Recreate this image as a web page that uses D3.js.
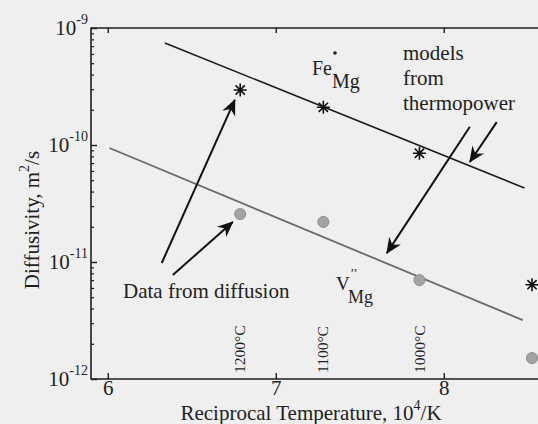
<!DOCTYPE html>
<html>
<head>
<meta charset="utf-8">
<script src="https://cdn.jsdelivr.net/npm/d3@7"></script>
<style>
  html, body { margin: 0; padding: 0; background: #efefef; }
  svg { display: block; }
  svg text { font-family: "Liberation Serif", "DejaVu Serif", serif; fill: #1e1e1e; }
</style>
</head>
<body>
<svg id="chart" width="538" height="424" font-family="Liberation Serif, serif"></svg>
<script>
// ---- data (x = 10^4 / T[K], y = diffusivity m^2/s) ----
const tempsC = [1200, 1100, 1000, 900];
const starX = [6.788, 7.283, 7.855, 8.525];
const starD = [2.95e-10, 2.1e-10, 8.5e-11, 6.4e-12];          // Fe_Mg (thermopower)
const circleX = [6.788, 7.283, 7.855, 8.525];
const circleD = [2.57e-11, 2.2e-11, 7.0e-12, 1.51e-12];       // V''_Mg (diffusion)
const feLineX = [6.34, 8.48];
const feLineD = [7.44e-10, 4.29e-11];
const vLineX = [6.01, 8.47];
const vLineD = [9.42e-11, 3.19e-12];
const tempLabels = ["1200°C", "1100°C", "1000°C"];
const xTicks = [6, 7, 8];
const yTicks = [1e-12, 1e-11, 1e-10, 1e-9];
const yTickExps = ["-12", "-11", "-10", "-9"];
// annotation arrows: tail (x0, D0) -> head (x1, D1)
const arrowsX0 = [6.321, 6.387, 8.155, 8.315];
const arrowsD0 = [9.8e-12, 7.74e-12, 1.43e-10, 1.57e-10];
const arrowsX1 = [6.756, 6.744, 7.661, 8.155];
const arrowsD1 = [2.43e-10, 2.2e-11, 1.19e-11, 7.16e-11];

const FONT = "Liberation Serif, DejaVu Serif, serif";
const svg = d3.select("#chart");
const mLeft = 91, mTop = 28, mBottom = 379;
const x = d3.scaleLinear().domain([5.9, 8.6]).range([mLeft, mLeft + 2.7 * 168]);
const y = d3.scaleLog().domain([1e-12, 1e-9]).range([mBottom, mTop]);

const ink = "#1e1e1e";

// axes lines
const axes = svg.append("g").attr("stroke", ink).attr("stroke-width", 1.6).attr("fill", "none");
axes.append("line").attr("x1", mLeft).attr("x2", mLeft).attr("y1", mTop - 0.5).attr("y2", mBottom + 0.5);
axes.append("line").attr("x1", mLeft).attr("x2", 538).attr("y1", mBottom).attr("y2", mBottom);
axes.append("line").attr("x1", mLeft).attr("x2", 538).attr("y1", mTop).attr("y2", mTop);

// y ticks (inward): major + minor
const minor = [];
for (let e = -12; e < -9; e++) for (let m = 2; m <= 9; m++) minor.push(m * Math.pow(10, e));
const yAxisMinor = d3.axisLeft(y).tickValues(minor).tickSize(-3).tickFormat("");
const gmin = svg.append("g").attr("transform", `translate(${mLeft},0)`).call(yAxisMinor);
gmin.select(".domain").remove();
gmin.selectAll("line").attr("stroke", ink).attr("stroke-width", 1.2);

const yAxis = d3.axisLeft(y).tickValues(yTicks).tickSize(-6).tickPadding(6);
const gy = svg.append("g").attr("transform", `translate(${mLeft},0)`).call(yAxis)
  .attr("font-family", FONT);
gy.select(".domain").remove();
gy.selectAll("line").attr("stroke", ink).attr("stroke-width", 1.4);
gy.selectAll("text").each(function(d, i) {
  const t = d3.select(this);
  t.text(null).attr("font-size", 21).attr("fill", ink).attr("dy", "0.3em").attr("x", -3);
  t.append("tspan").text("10");
  t.append("tspan").text(yTickExps[i]).attr("font-size", 14).attr("dy", "-0.75em");
});

// x ticks bottom and top (inward)
const xAxis = d3.axisBottom(x).tickValues(xTicks).tickSize(-6).tickPadding(10).tickFormat(d3.format("d"));
const gx = svg.append("g").attr("transform", `translate(0,${mBottom})`).call(xAxis)
  .attr("font-family", FONT);
gx.select(".domain").remove();
gx.selectAll("line").attr("stroke", ink).attr("stroke-width", 1.4);
gx.selectAll("text").attr("font-size", 21).attr("fill", ink).attr("dy", "0.3em");
const xTop = d3.axisTop(x).tickValues(xTicks).tickSize(-5).tickFormat("");
const gxt = svg.append("g").attr("transform", `translate(0,${mTop})`).call(xTop);
gxt.select(".domain").remove();
gxt.selectAll("line").attr("stroke", ink).attr("stroke-width", 1.4);

// axis titles
const xt = svg.append("text").attr("x", 311).attr("y", 420).attr("text-anchor", "middle")
  .attr("font-size", 21).attr("font-family", FONT);
xt.append("tspan").text("Reciprocal Temperature, 10");
xt.append("tspan").text("4").attr("font-size", 14).attr("dy", "-0.7em");
xt.append("tspan").text("/K").attr("dy", "0.45em");

const yt = svg.append("text").attr("transform", "translate(39,220) rotate(-90)")
  .attr("text-anchor", "middle").attr("font-size", 21).attr("font-family", FONT);
yt.append("tspan").text("Diffusivity, m");
yt.append("tspan").text("2").attr("font-size", 14).attr("dy", "-0.7em");
yt.append("tspan").text("/s").attr("dy", "0.45em");

// model lines
const line = d3.line().x(d => x(d[0])).y(d => y(d[1]));
svg.append("path").datum(feLineX.map((v, i) => [v, feLineD[i]])).attr("d", line)
  .attr("fill", "none").attr("stroke", "#1a1a1a").attr("stroke-width", 1.6);
svg.append("path").datum(vLineX.map((v, i) => [v, vLineD[i]])).attr("d", line)
  .attr("fill", "none").attr("stroke", "#6a6a6a").attr("stroke-width", 1.8);

// circles (diffusion data)
svg.append("g").selectAll("circle").data(circleX.map((v, i) => [v, circleD[i]])).join("circle")
  .attr("cx", d => x(d[0])).attr("cy", d => y(d[1])).attr("r", 5.5)
  .attr("fill", "#a4a4a4").attr("stroke", "#8a8a8a").attr("stroke-width", 1);

// stars (thermopower models)
const r = 6.5;
let starPath = "";
for (let k = 0; k < 4; k++) {
  const a = k * Math.PI / 4;
  starPath += `M${(-r * Math.cos(a)).toFixed(2)},${(-r * Math.sin(a)).toFixed(2)}L${(r * Math.cos(a)).toFixed(2)},${(r * Math.sin(a)).toFixed(2)}`;
}
svg.append("g").selectAll("path").data(starX.map((v, i) => [v, starD[i]])).join("path")
  .attr("transform", d => `translate(${x(d[0])},${y(d[1])})`)
  .attr("d", starPath).attr("stroke", "#111").attr("stroke-width", 1.6).attr("fill", "none");

// arrows
const defs = svg.append("defs");
defs.append("marker").attr("id", "ah").attr("markerUnits", "userSpaceOnUse")
  .attr("viewBox", "-16 -8 18 16").attr("refX", 0).attr("refY", 0)
  .attr("markerWidth", 18).attr("markerHeight", 16).attr("orient", "auto")
  .append("path").attr("d", "M1,0 L-15,-7 L-10,0 L-15,7 Z").attr("fill", "#111");
svg.append("g").selectAll("line").data(arrowsX0.map((v, i) => i)).join("line")
  .attr("x1", i => x(arrowsX0[i])).attr("y1", i => y(arrowsD0[i]))
  .attr("x2", i => x(arrowsX1[i])).attr("y2", i => y(arrowsD1[i]))
  .attr("stroke", "#111").attr("stroke-width", 2).attr("marker-end", "url(#ah)");

// temperature labels (rotated)
svg.append("g").attr("font-family", FONT).selectAll("text").data(tempLabels).join("text")
  .attr("transform", (d, i) => `translate(${x(10000 / (tempsC[i] + 273)) + 5},373) rotate(-90)`)
  .attr("font-size", 15.5).text(d => d);

// annotations
const fe = svg.append("text").attr("x", 312).attr("y", 75).attr("font-size", 20).attr("font-family", FONT);
fe.append("tspan").text("Fe");
fe.append("tspan").text("Mg").attr("dy", 13);
svg.append("circle").attr("cx", 335).attr("cy", 53).attr("r", 1.8).attr("fill", ink);

const notes = ["models", "from", "thermopower"];
svg.append("g").attr("font-family", FONT).selectAll("text").data(notes).join("text")
  .attr("x", 403).attr("y", (d, i) => 60 + i * 25).attr("font-size", 21).text(d => d);

svg.append("text").attr("x", 123).attr("y", 298).attr("font-size", 21).attr("font-family", FONT)
  .text("Data from diffusion");

svg.append("text").attr("x", 336).attr("y", 290).attr("font-size", 19).attr("font-family", FONT).text("V");
svg.append("text").attr("x", 350).attr("y", 277).attr("font-size", 13).attr("fill", "#444")
  .attr("font-family", FONT).text("’’");
svg.append("text").attr("x", 348).attr("y", 303).attr("font-size", 18).attr("fill", "#444")
  .attr("font-family", FONT).text("Mg");
</script>
</body>
</html>
